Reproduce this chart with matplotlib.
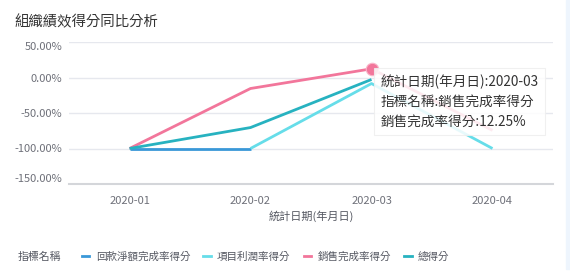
import numpy as np
import matplotlib
matplotlib.use("Agg")
from matplotlib import pyplot as plt
from matplotlib.lines import Line2D
from matplotlib.patches import Rectangle

plt.rcParams['font.family'] = ['Noto Sans CJK TC', 'DejaVu Sans']

months = ["2020-01", "2020-02", "2020-03", "2020-04"]
series_names = ["回款淨額完成率得分", "項目利潤率得分", "銷售完成率得分", "總得分"]
huikuan = [-100, -100, np.nan, np.nan]
xiangmu = [np.nan, -100, -8.5, -100]
xiaoshou = [-100, -15.5, 12.25, -74.5]
zong = [-100, -70.5, -2.8, np.nan]
y_ticks = [50, 0, -50, -100, -150]
colors = ["#3a98d8", "#66dde9", "#f2769b", "#27b2c0"]

fig = plt.figure(figsize=(5.7, 2.74), dpi=100)
ax = fig.add_axes([69 / 570, 1 - 184 / 274, (553 - 69) / 570, (184 - 42) / 274])

x = np.arange(len(months))
for vals, c in zip([huikuan, xiangmu, xiaoshou, zong], colors):
    ax.plot(x, vals, color=c, lw=2, solid_capstyle='butt', zorder=3)

# highlighted point under the tooltip
ax.plot(x[2], xiaoshou[2], 'o', color=colors[2], ms=9, mec='#f9b7ca', mew=0.8, zorder=4)

ax.set_xlim(-0.5, len(months) - 0.5)
ax.set_ylim(y_ticks[-1], y_ticks[0])
ax.set_xticks(x)
ax.set_xticklabels(months, fontsize=8, color='#6e7079')
ax.set_yticks(y_ticks)
ax.set_yticklabels([f"{v:.2f}%" for v in y_ticks], fontsize=8, color='#6e7079')
ylabels = ax.get_yticklabels()
ylabels[0].set_va('top')
ylabels[-1].set_va('bottom')
ax.tick_params(length=0, axis='x', pad=9)
ax.tick_params(length=0, axis='y', pad=5)
ax.grid(axis='y', color='#e6e8ee', lw=1)
ax.set_axisbelow(True)
for s in ['left', 'right', 'top']:
    ax.spines[s].set_visible(False)
ax.spines['bottom'].set_color('#d4d6da')
ax.spines['bottom'].set_linewidth(1.5)
ax.set_xlabel("統計日期(年月日)", fontsize=8, color='#555862', labelpad=3)

fig.text(14 / 570, 1 - 22 / 274, "組織績效得分同比分析", fontsize=10.4, color='#333333', va='center')

# tooltip
tip = f"統計日期(年月日):{months[2]}\n指標名稱:{series_names[2]}\n{series_names[2]}:{xiaoshou[2]:.2f}%"
ax.annotate(tip, xy=(x[2], xiaoshou[2]), xytext=(9, -6), textcoords='offset pixels',
            ha='left', va='top', fontsize=9.8, color='#333333', linespacing=1.5,
            bbox=dict(boxstyle='square,pad=0.5', fc='white', ec='#eeeeee', lw=0.8, alpha=0.85),
            zorder=10, annotation_clip=False)

# legend
fig.text(18 / 570, 1 - 257 / 274, "指標名稱", fontsize=7.8, color='#555862', va='center')
handles = [Line2D([], [], color=c, lw=2) for c in colors]
fig.legend(handles, series_names, loc='center left', bbox_to_anchor=(82 / 570, 1 - 257 / 274),
           ncol=4, frameon=False, fontsize=7.6, handlelength=0.7, handletextpad=0.6,
           columnspacing=1.25, labelcolor='#555862', borderaxespad=0, borderpad=0)

# scrollbar strip on the right edge
fig.patches.append(Rectangle((566 / 570, 0.02), 4 / 570, 0.98, transform=fig.transFigure,
                             color='#eef5fd', zorder=0))

fig.savefig("out.png", dpi=100, facecolor='white')
